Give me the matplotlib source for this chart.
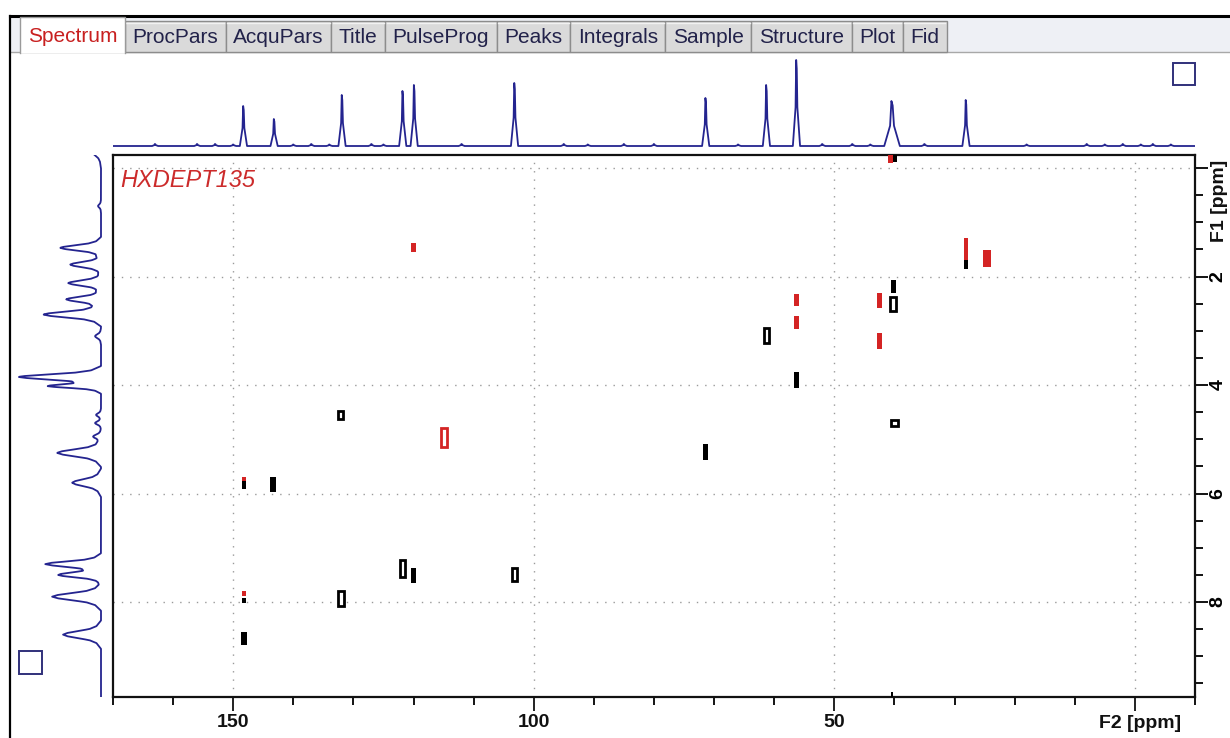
import matplotlib
matplotlib.use("Agg")
import matplotlib.pyplot as plt
import numpy as np
from matplotlib.patches import Rectangle
from matplotlib.ticker import MultipleLocator, FixedLocator

plt.rcParams['font.family'] = ['Liberation Sans', 'DejaVu Sans']

# ---------------- data ----------------
tabs = ["Spectrum", "ProcPars", "AcquPars", "Title", "PulseProg", "Peaks",
        "Integrals", "Sample", "Structure", "Plot", "Fid"]
active_tab = "Spectrum"
experiment = "HXDEPT135"

# F2 (13C) projection: peak positions (ppm) and intensities (arb.)
f2_ppm = [148.3, 143.2, 131.9, 121.8, 119.9, 103.2, 71.4, 61.3, 56.3, 40.4, 28.1]
f2_int = [40, 27, 51, 55, 61, 63, 48, 61, 86, 45, 46]
f2_wid = [0.6, 0.6, 0.6, 0.6, 0.6, 0.6, 0.6, 0.6, 0.6, 1.3, 0.6]
# small baseline bumps in the F2 projection
f2_noise_ppm = [163, 156, 153, 150, 140, 137, 134, 127, 125, 112, 95, 91, 85,
                80, 66, 52, 47, 44, 35, 18, 8, 5, 2, -1, -3, -6]
f2_noise_int = [2, 2, 2, 1.5, 1.5, 2, 1.5, 2, 1.5, 2, 2, 1.5, 2,
                2, 1.5, 2, 2, 1.5, 2, 1.5, 2, 1.5, 2, 1.5, 2, 1.5]

# F1 (1H) projection: peak positions (ppm) and intensities (arb.)
f1_ppm = [-0.30, 0.70, 1.47, 1.78, 2.12, 2.42, 2.70, 3.10, 3.85, 4.02, 4.55,
          4.70, 4.95, 5.25, 5.80, 7.30, 7.50, 7.90, 8.60]
f1_int = [9, 3, 41, 31, 33, 35, 58, 6, 83, 50, 5, 6, 8, 44, 29, 56, 43, 49, 38]
f1_wid = [0.30, 0.12, 0.20, 0.20, 0.20, 0.20, 0.22, 0.15, 0.20, 0.14, 0.12,
          0.12, 0.15, 0.26, 0.26, 0.20, 0.18, 0.26, 0.26]

# 2D cross peaks: F2 ppm, F1 start, F1 end, phase (+1 black, -1 red), ring contour?
cp_f2 = [40.6, 39.9, 28.1, 28.1, 24.6, 120.0, 61.3, 56.3, 56.3, 56.3, 42.5, 42.5,
         40.2, 40.2, 40.0, 132.1, 132.1, 115.0, 71.4, 148.2, 148.2, 148.2, 148.2,
         148.2, 143.4, 121.8, 120.0, 103.2, 40.4]
cp_lo = [-0.30, -0.26, 1.29, 1.70, 1.52, 1.38, 2.95, 3.76, 2.32, 2.73, 2.30, 3.04,
         2.06, 2.38, 4.64, 4.47, 7.79, 4.79, 5.08, 5.69, 5.76, 7.79, 7.92,
         8.55, 5.70, 7.22, 7.37, 7.37, 9.65]
cp_hi = [-0.10, -0.12, 1.70, 1.86, 1.82, 1.54, 3.22, 4.05, 2.54, 2.96, 2.58, 3.33,
         2.30, 2.63, 4.76, 4.62, 8.08, 5.14, 5.38, 5.76, 5.91, 7.88, 8.01,
         8.80, 5.98, 7.53, 7.64, 7.62, 9.75]
cp_sign = [-1, 1, -1, 1, -1, -1, 1, 1, -1, -1, -1, -1,
           1, 1, 1, 1, 1, -1, 1, -1, 1, -1, 1,
           1, 1, 1, 1, 1, 1]
cp_ring = [0, 0, 0, 0, 0, 0, 1, 0, 0, 0, 0, 0,
           0, 1, 1, 1, 1, 1, 0, 0, 0, 0, 0,
           0, 0, 1, 0, 1, 0]
cp_wide = [0.8, 0.8, 0.7, 0.7, 1.3, 0.7, 0.9, 0.9, 0.8, 0.8, 0.8, 0.8,
           0.8, 1.0, 1.2, 0.8, 1.0, 1.0, 0.9, 0.6, 0.7, 0.6, 0.7,
           0.9, 0.9, 0.9, 0.9, 0.9, 0.4]

f2_range = (170.0, -10.0)
f1_range = (9.75, -0.24)
f2_major = [150, 100, 50, 0]
f2_labels = ["150", "100", "50", ""]
f1_major = [0, 2, 4, 6, 8]
f1_labels = ["", "2", "4", "6", "8"]

# peak drawing profile (relative offset, relative height) - a line-shape style
PROF_OFF = [-1.0, -0.6, -0.4, -0.25, -0.12, 0.0, 0.12, 0.25, 0.4, 0.6, 1.0]
PROF_FRAC = [0.0, 0.12, 0.3, 0.6, 0.88, 1.0, 0.88, 0.6, 0.3, 0.12, 0.0]

# ---------------- figure ----------------
W, H = 1230, 738
fig = plt.figure(figsize=(W / 100, H / 100), dpi=100)
fig.patch.set_facecolor("white")

def box(l, t, r, b):
    return [l / W, 1 - b / H, (r - l) / W, (b - t) / H]

BLUE = "#24248f"
RED = "#d42424"

# main 2D axes
ax = fig.add_axes(box(113, 155, 1195, 697))
ax.set_xlim(*f2_range)
ax.set_ylim(*f1_range)
for s in ax.spines.values():
    s.set_linewidth(1.6)
    s.set_color("#111111")
ax.xaxis.set_major_locator(FixedLocator(f2_major))
ax.set_xticklabels(f2_labels)
ax.xaxis.set_minor_locator(MultipleLocator(10))
ax.yaxis.tick_right()
ax.yaxis.set_major_locator(FixedLocator(f1_major))
ax.set_yticklabels(f1_labels)
ax.yaxis.set_minor_locator(MultipleLocator(0.5))
ax.tick_params(axis="x", which="major", direction="out", length=10, width=1.3,
               labelsize=14, pad=2, colors="#111111")
ax.tick_params(axis="x", which="minor", direction="out", length=6, width=1.3)
ax.tick_params(axis="y", which="major", direction="out", length=9.5, width=1.3,
               labelsize=14, pad=1, labelrotation=90)
ax.tick_params(axis="y", which="minor", direction="out", length=6, width=1.3)
for lab in ax.get_xticklabels() + ax.get_yticklabels():
    lab.set_fontweight("bold")
for lab in ax.get_yticklabels():
    lab.set_va("center")

for v in f2_major:
    ax.axvline(v, color="#9a9a9a", lw=1.0, ls=(0, (1, 5)), zorder=0)
for v in f1_major:
    ax.axhline(v, color="#9a9a9a", lw=1.0, ls=(0, (1, 5)), zorder=0)

# cross peaks
for x, lo, hi, sg, ring, wd in zip(cp_f2, cp_lo, cp_hi, cp_sign, cp_ring, cp_wide):
    col = "#000000" if sg > 0 else RED
    if ring:
        ax.bar(x, hi - lo, bottom=lo, width=wd, facecolor="white",
               edgecolor=col, linewidth=2.0, zorder=3)
    else:
        ax.bar(x, hi - lo, bottom=lo, width=wd, color=col, linewidth=0, zorder=3)

ax.text(0.007, 0.953, experiment, transform=ax.transAxes, color="#cc2b2b",
        fontsize=17, fontstyle="italic", ha="left", va="center")

# top projection (F2)
axt = fig.add_axes(box(113, 52, 1195, 153))
axt.set_xlim(*f2_range)
axt.set_ylim(-7, 94)
axt.axis("off")
allp = sorted(
    [(c, h, w) for c, h, w in zip(f2_ppm, f2_int, f2_wid)]
    + [(c, h, 0.5) for c, h in zip(f2_noise_ppm, f2_noise_int)],
    key=lambda p: -p[0])
xs = [f2_range[0]]
ys = [0]
for c, h, w in allp:
    xs += [c + w, c + 0.25 * w, c + 0.08 * w, c - 0.08 * w, c - 0.25 * w, c - w]
    ys += [0, 0.45 * h, h, 0.9 * h, 0.45 * h, 0]
xs.append(f2_range[1])
ys.append(0)
axt.plot(xs, ys, color=BLUE, lw=1.3)

# left projection (F1): sum of peak line shapes on the axis' ppm sampling
axl = fig.add_axes(box(12, 155, 108, 697))
axl.set_ylim(*f1_range)
axl.set_xlim(89, -7)
axl.axis("off")
grid = np.linspace(f1_range[1], f1_range[0], 1600)
trace = np.zeros_like(grid)
for c, h, w in zip(f1_ppm, f1_int, f1_wid):
    trace += h * np.interp((grid - c) / w, PROF_OFF, PROF_FRAC, left=0, right=0)
axl.plot(trace, grid, color=BLUE, lw=1.3)

ax.text(1.023, 0.915, "F1 [ppm]", transform=ax.transAxes, rotation=90,
        fontsize=14, fontweight="bold", ha="center", va="center", color="#111111")
ax.text(0.9872, -0.033, "F2 [ppm]", transform=ax.transAxes,
        fontsize=14, fontweight="bold", ha="right", va="top", color="#111111")

# ---------------- window chrome (pixel overlay) ----------------
ov = fig.add_axes([0, 0, 1, 1], zorder=10)
ov.set_xlim(0, W)
ov.set_ylim(H, 0)
ov.axis("off")

ov.add_patch(Rectangle((10, 16), W - 10, 36, facecolor="#eef0f5", edgecolor="none"))
ov.plot([10, W], [52, 52], color="#a8a8a8", lw=1.0)
ov.plot([10, W], [16, 16], color="#000000", lw=2.2)
ov.plot([10, 10], [16, H], color="#000000", lw=1.6)

TABFS = 15
fig.canvas.draw()
rend = fig.canvas.get_renderer()
widths = []
for t in tabs:
    tt = fig.text(0, 0, t, fontsize=TABFS)
    widths.append(tt.get_window_extent(rend).width)
    tt.remove()
x0, x1 = 20, 947
pad = (x1 - x0 - sum(widths)) / (2 * len(tabs))
cx = x0
for t, w in zip(tabs, widths):
    tw = w + 2 * pad
    if t == active_tab:
        ov.add_patch(Rectangle((cx, 17), tw, 36, facecolor="white",
                               edgecolor="none", zorder=3))
        ov.plot([cx, cx, cx + tw, cx + tw], [53, 17, 17, 53], color="#9a9a9a",
                lw=1.0, zorder=4)
        ov.text(cx + tw / 2, 37, t, fontsize=TABFS, color="#c82020",
                ha="center", va="center", zorder=5)
    else:
        ov.add_patch(Rectangle((cx, 21), tw, 31, facecolor="#dadada",
                               edgecolor="#8c8c8c", lw=1.0, zorder=2))
        ov.plot([cx + 1.5, cx + tw - 1.5], [22.5, 22.5], color="#f2f2f2",
                lw=1.0, zorder=3)
        ov.text(cx + tw / 2, 37.5, t, fontsize=TABFS, color="#22224a",
                ha="center", va="center", zorder=5)
    cx += tw

# small square buttons
ov.add_patch(Rectangle((1173, 63), 22, 22, facecolor="none", edgecolor="#30307a", lw=1.4))
ov.add_patch(Rectangle((19, 651), 23, 23, facecolor="none", edgecolor="#30307a", lw=1.4))

fig.savefig("out.png", dpi=100, facecolor="white")
